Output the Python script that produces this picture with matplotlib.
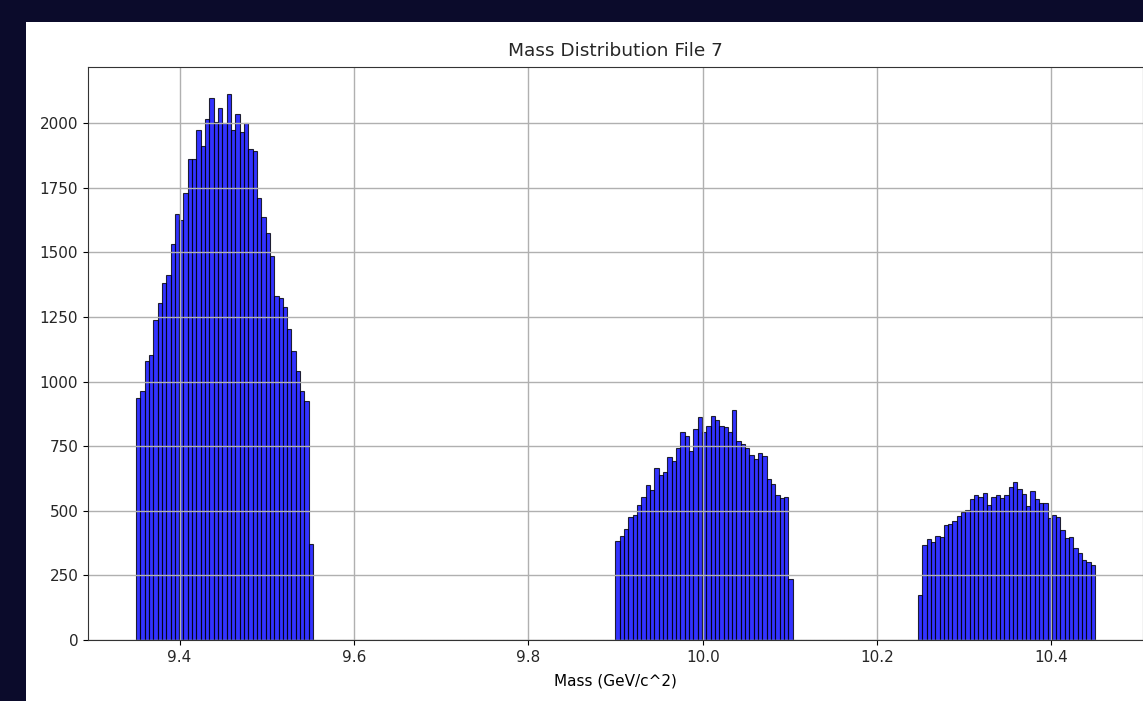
import numpy as np
import matplotlib
matplotlib.use("Agg")
import matplotlib.pyplot as plt
from matplotlib.patches import Rectangle

# histogram binning: 222 equal bins between the lowest and highest mass
mass_lo, mass_hi = 9.35, 10.45
n_bins = 222

# counts per bin for the three resonances, and the bin where each begins
peak1_start = 0
peak1_counts = [937, 965, 1079, 1102, 1240, 1305, 1380, 1412, 1531, 1647,
                1625, 1731, 1860, 1860, 1973, 1912, 2015, 2099, 2003, 2058,
                2000, 2112, 1974, 2035, 1966, 1999, 1899, 1893, 1712, 1637,
                1574, 1486, 1333, 1324, 1289, 1204, 1118, 1040, 965, 924,
                370]
peak2_start = 111
peak2_counts = [385, 404, 429, 475, 485, 521, 555, 598, 581, 665,
                640, 650, 708, 691, 743, 806, 788, 730, 818, 862,
                804, 830, 866, 853, 830, 825, 805, 891, 769, 760,
                743, 717, 700, 723, 713, 622, 605, 562, 549, 553,
                235]
peak3_start = 181
peak3_counts = [174, 368, 391, 381, 403, 400, 446, 450, 461, 481,
                497, 505, 545, 562, 553, 568, 523, 553, 562, 549,
                562, 592, 610, 584, 565, 517, 578, 545, 532, 530,
                472, 484, 475, 426, 394, 398, 355, 336, 310, 300,
                292]

edges = np.linspace(mass_lo, mass_hi, n_bins + 1)
centers = 0.5 * (edges[:-1] + edges[1:])
counts = np.zeros(n_bins)
for start, vals in [(peak1_start, peak1_counts),
                    (peak2_start, peak2_counts),
                    (peak3_start, peak3_counts)]:
    counts[start:start + len(vals)] = vals

plt.rcParams['font.size'] = 11
plt.rcParams['text.color'] = '#262626'
plt.rcParams['xtick.labelcolor'] = '#262626'
plt.rcParams['ytick.labelcolor'] = '#262626'

fig = plt.figure(figsize=(11.43, 7.01), dpi=100)
fig.patch.set_facecolor('#0b0b2b')
# white notebook cell behind the plot
fig.patches.append(Rectangle((26 / 1143, 0), 1 - 26 / 1143, 1 - 22 / 701,
                             transform=fig.transFigure, facecolor='white',
                             edgecolor='none', zorder=-10))

ax = fig.add_axes([88 / 1143, 61 / 701, 1 - 88 / 1143, 573 / 701])
ax.set_zorder(5)
ax.hist(centers, bins=edges, weights=counts, color='blue', alpha=0.8,
        edgecolor='black', linewidth=0.8)
ax.grid(True, linewidth=1.0)
for s in ax.spines.values():
    s.set_color('#333333')
ax.set_title('Mass Distribution File 7', fontsize=13.3, pad=8)
ax.set_xlabel('Mass (GeV/c^2)', labelpad=6)

fig.savefig('out.png', dpi=100, facecolor=fig.get_facecolor())
